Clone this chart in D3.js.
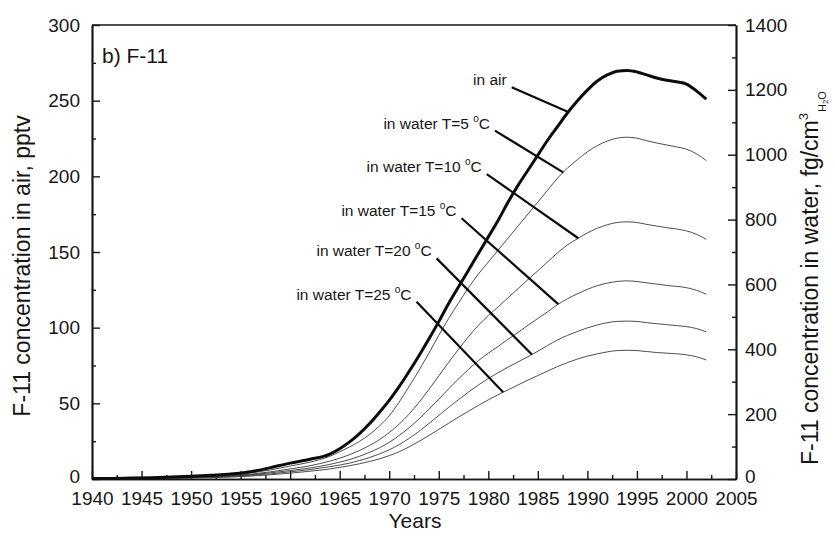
<!DOCTYPE html>
<html>
<head>
<meta charset="utf-8">
<script src="https://cdn.jsdelivr.net/npm/d3@7"></script>
<style>
  body { margin: 0; background: #fff; }
  svg { display: block; }
  text { font-family: "Liberation Sans", Arial, Helvetica, sans-serif; fill: #161616; }
</style>
</head>
<body>
<svg id="chart" width="835" height="536"></svg>
<script>
// Sampling years (biennial to 1964, annual afterwards)
const years = [1940,1942,1944,1946,1948,1950,1952,1954,1956,1958,1960,1962,1964,
  1965,1966,1967,1968,1969,1970,1971,1972,1973,1974,1975,1976,1977,1978,1979,
  1980,1981,1982,1983,1984,1985,1986,1987,1988,1989,1990,1991,1992,1993,1994,
  1995,1996,1997,1998,1999,2000,2001,2002];

// F-11 in air, pptv (left axis)
const airPptv = [0.3,0.4,0.6,0.9,1.3,1.8,2.5,3.3,4.8,7.5,10.5,13,16.5,
  20,24.5,30,36.5,44,52,61,71,81.5,92.5,104,116,127,138,149,
  160,171,183,194,204,214,224,233,242,250,257,263,267,269.5,270,
  269,267,265,263.5,262.5,261,256.5,251];

// F-11 in water at equilibrium, fg/cm3 (right axis)
const water5 = [1,1,2,3,4,6,9,13,19,28,40,52,70,
  84,99,116,137,163,195,237,285,335,388,443,495,543,590,632,
  669,706,743,780,817,854,891,928,959,985,1009,1028,1042,1051,1054,
  1051,1043,1036,1030,1024,1017,1003,982];
const water10 = [1,1,2,3,4,5,7,10,15,22,31,41,55,
  64,75,88,103,121,143,169,200,236,276,318,360,400,439,474,
  504,531,559,587,615,642,670,698,722,741,759,773,784,791,793,
  791,785,780,775,771,765,755,739];
const water15 = [1,1,2,2,3,4,6,9,13,19,26,34,45,
  52,60,70,82,96,113,134,158,185,215,246,278,309,338,365,
  388,409,431,452,474,495,516,538,556,571,585,596,604,609,611,
  609,605,601,597,594,590,582,570];
const water20 = [1,1,1,2,3,4,5,8,11,16,22,29,38,
  43,49,57,66,77,90,106,125,147,171,196,221,245,268,290,
  310,328,345,361,377,394,412,429,443,455,466,475,482,486,487,
  486,482,479,476,473,470,464,454];
const water25 = [1,1,1,2,2,3,4,6,9,13,18,24,31,
  36,41,47,54,62,72,84,99,116,134,153,172,191,209,227,
  244,260,275,290,305,319,333,347,359,370,379,386,392,396,397,
  396,393,390,388,386,383,377,367];

// Axis ticks
const xTicks = [1940,1945,1950,1955,1960,1965,1970,1975,1980,1985,1990,1995,2000,2005];
const xMinor = [1942.5,1947.5,1952.5,1957.5,1962.5,1967.5,1972.5,1977.5,1982.5,1987.5,1992.5,1997.5,2002.5];
const yLeftTicks = [0,50,100,150,200,250,300];
const yLeftMinor = [25,75,125,175,225,275];
const yRightTicks = [0,200,400,600,800,1000,1200,1400];
const yRightMinor = [100,300,500,700,900,1100,1300];

// Curve annotations: label text, label anchor (year, pptv) and pointer tip year
const labelText = ["in air","in water T=5","in water T=10","in water T=15","in water T=20","in water T=25"];
const labelYear = [1982.36,1980.67,1979.84,1977.30,1974.78,1972.76];
const labelPptv = [258.8,230.2,201.5,172.3,145.8,117.2];
const tipYear = [1988.07,1987.56,1989.08,1987.06,1984.40,1981.50];

const waterSeries = [water5, water10, water15, water20, water25];

const plotL = 92, plotR = 736, plotT = 25, plotB = 479;

const svg = d3.select("#chart");
const x = d3.scaleLinear().domain([1940, 2005]).range([plotL, plotR]);
const yL = d3.scaleLinear().domain([0, 300]).range([plotB, plotT]);
const yR = d3.scaleLinear().domain([0, 1400]).range([plotB, plotT]);

const ink = "#161616";
const intFmt = d3.format("d");

function styleAxis(g) {
  g.select(".domain").attr("stroke", ink).attr("stroke-width", 1.7);
  g.selectAll(".tick line").attr("stroke", ink).attr("stroke-width", 1.4);
  g.selectAll(".tick text").attr("font-size", 19).attr("fill", ink)
    .attr("font-family", '"Liberation Sans", Arial, sans-serif');
}
// keep the zero labels of the value axes clear of the year labels
function liftZero(g) {
  g.selectAll(".tick text").filter(d => d === 0).attr("dy", "0.2em");
}

// Top frame line
svg.append("line").attr("x1", plotL).attr("x2", plotR).attr("y1", plotT).attr("y2", plotT)
  .attr("stroke", ink).attr("stroke-width", 1.7);

// Minor ticks
svg.append("g").attr("transform", `translate(0,${plotB})`)
  .call(d3.axisBottom(x).tickValues(xMinor).tickSize(-4).tickSizeOuter(0).tickFormat(""))
  .call(styleAxis);
svg.append("g").attr("transform", `translate(${plotL},0)`)
  .call(d3.axisLeft(yL).tickValues(yLeftMinor).tickSize(-4).tickSizeOuter(0).tickFormat(""))
  .call(styleAxis);
svg.append("g").attr("transform", `translate(${plotR},0)`)
  .call(d3.axisRight(yR).tickValues(yRightMinor).tickSize(-4).tickSizeOuter(0).tickFormat(""))
  .call(styleAxis);

// Major ticks and labels
svg.append("g").attr("transform", `translate(0,${plotB})`)
  .call(d3.axisBottom(x).tickValues(xTicks).tickSize(-8).tickSizeOuter(0).tickPadding(13).tickFormat(intFmt))
  .call(styleAxis);
svg.append("g").attr("transform", `translate(${plotL},0)`)
  .call(d3.axisLeft(yL).tickValues(yLeftTicks).tickSize(-8).tickSizeOuter(0).tickPadding(12).tickFormat(intFmt))
  .call(styleAxis).call(liftZero);
svg.append("g").attr("transform", `translate(${plotR},0)`)
  .call(d3.axisRight(yR).tickValues(yRightTicks).tickSize(-8).tickSizeOuter(0).tickPadding(9).tickFormat(intFmt))
  .call(styleAxis).call(liftZero);

// Axis titles
svg.append("text").attr("x", 415).attr("y", 528).attr("text-anchor", "middle")
  .attr("font-size", 21).text("Years");

svg.append("text")
  .attr("transform", `translate(30,${(plotT + plotB) / 2 + 14}) rotate(-90)`)
  .attr("text-anchor", "middle").attr("font-size", 23)
  .text("F-11 concentration in air, pptv");

const rt = svg.append("text")
  .attr("transform", `translate(818,465) rotate(-90)`)
  .attr("text-anchor", "start").attr("font-size", 23);
rt.append("tspan").text("F-11 concentration in water, fg/cm");
rt.append("tspan").attr("font-size", 13).attr("dy", -10).text("3");
rt.append("tspan").attr("font-size", 11).attr("dy", 18).attr("dx", 1).text("H");
rt.append("tspan").attr("font-size", 8).attr("dy", 2).text("2");
rt.append("tspan").attr("font-size", 11).attr("dy", -2).text("O");

// Panel label
svg.append("text").attr("x", 102).attr("y", 63).attr("font-size", 21).text("b) F-11");

// Curves
const rows = years.map((yr, i) => ({ yr, i }));
const lineAir = d3.line().x(d => x(d.yr)).y(d => yL(airPptv[d.i])).curve(d3.curveMonotoneX);
const lineWater = vals => d3.line().x(d => x(d.yr)).y(d => yR(vals[d.i])).curve(d3.curveMonotoneX);

waterSeries.forEach(vals => {
  svg.append("path").datum(rows).attr("d", lineWater(vals))
    .attr("fill", "none").attr("stroke", "#3a3a3a").attr("stroke-width", 0.9);
});
svg.append("path").datum(rows).attr("d", lineAir)
  .attr("fill", "none").attr("stroke", "#0c0c0c").attr("stroke-width", 3)
  .attr("stroke-linejoin", "round");

// Pointer lines and labels
function valueAt(vals, yr) {
  const i = Math.max(1, d3.bisectLeft(years, yr));
  const t = (yr - years[i - 1]) / (years[i] - years[i - 1]);
  return vals[i - 1] + t * (vals[i] - vals[i - 1]);
}

labelText.forEach((txt, k) => {
  const sx = x(labelYear[k]), sy = yL(labelPptv[k]);
  const tx = x(tipYear[k]);
  const ty = k === 0 ? yL(valueAt(airPptv, tipYear[k])) : yR(valueAt(waterSeries[k - 1], tipYear[k]));
  svg.append("line").attr("x1", sx).attr("y1", sy).attr("x2", tx).attr("y2", ty)
    .attr("stroke", "#0c0c0c").attr("stroke-width", 2.2);
  const t = svg.append("text").attr("x", sx - 5).attr("y", sy - 2)
    .attr("text-anchor", "end").attr("font-size", 15.5);
  if (k === 0) {
    t.text(txt);
  } else {
    t.append("tspan").text(txt + " ");
    t.append("tspan").attr("font-size", 10).attr("dy", -7).text("o");
    t.append("tspan").attr("dy", 7).text("C");
  }
});
</script>
</body>
</html>
